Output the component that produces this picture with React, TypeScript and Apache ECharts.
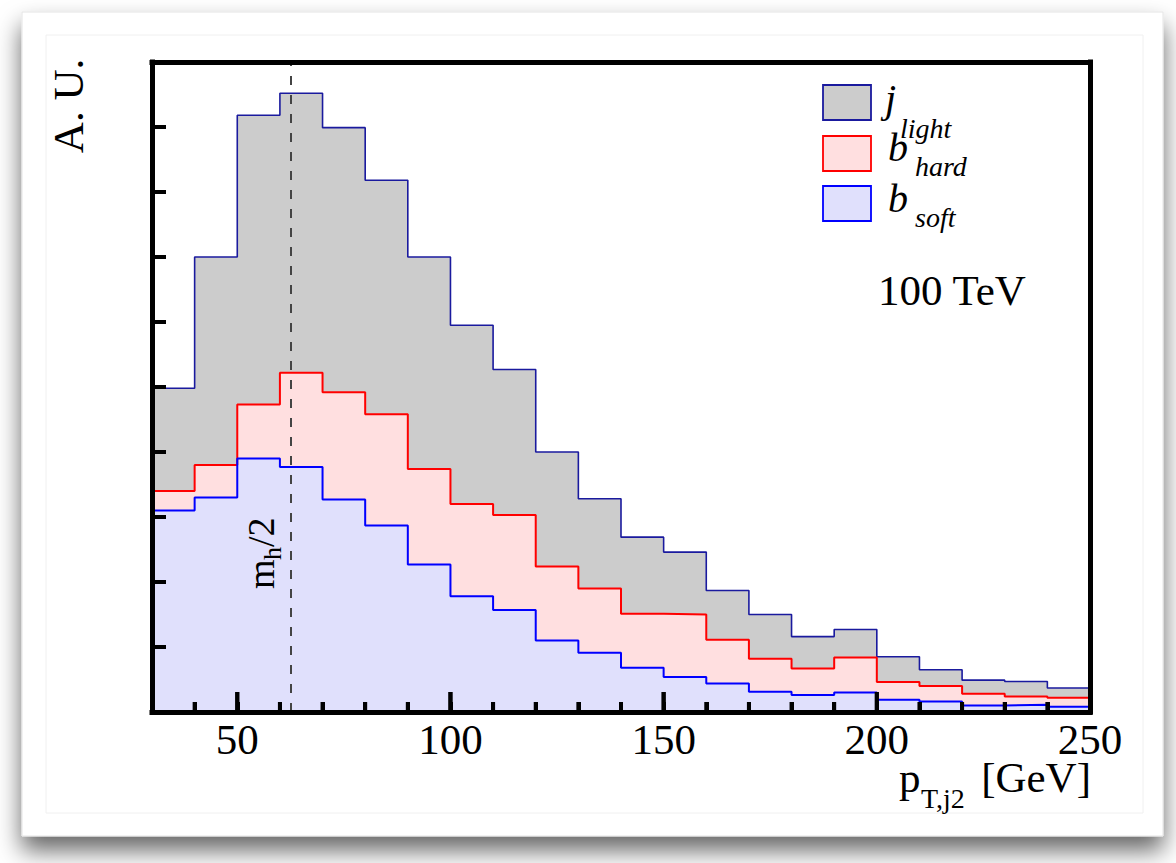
import React, { useEffect, useRef } from "react";
import * as echarts from "echarts";

// Histogram bins: lower edges (GeV), 10 GeV wide
const binLow = [30, 40, 50, 60, 70, 80, 90, 100, 110, 120, 130, 140, 150, 160, 170, 180, 190, 200, 210, 220, 230, 240];
const binHigh = 250;

// Normalised distributions (arbitrary units)
const jLight = [4.98, 7.0, 9.18, 9.52, 8.99, 8.18, 7.0, 5.95, 5.27, 4.0, 3.28, 2.69, 2.46, 1.87, 1.5, 1.16, 1.27, 0.85, 0.65, 0.49, 0.47, 0.37];
const bHard = [3.4, 3.8, 4.73, 5.22, 4.92, 4.58, 3.74, 3.2, 3.03, 2.24, 1.9, 1.51, 1.5, 1.11, 0.82, 0.67, 0.84, 0.46, 0.4, 0.28, 0.24, 0.22];
const bSoft = [3.1, 3.3, 3.9, 3.77, 3.27, 2.87, 2.27, 1.78, 1.57, 1.1, 0.91, 0.68, 0.54, 0.44, 0.31, 0.26, 0.3, 0.19, 0.16, 0.1, 0.11, 0.08];

// x ticks: long at the labelled values, short at the other bin edges
const xLabelTicks = [50, 100, 150, 200, 250];
const xMinorTicks = [40, 60, 70, 80, 90, 110, 120, 130, 140, 160, 170, 180, 190, 210, 220, 230, 240];
const yTicks = [1, 2, 3, 4, 5, 6, 7, 8, 9];

// Half the Higgs mass, GeV
const higgsHalfMass = 62.5;

const FONT = "Liberation Serif, Times New Roman, serif";

const toSteps = (vals: number[]) => [
  ...binLow.map((x, i) => [x, vals[i]]),
  [binHigh, vals[vals.length - 1]],
];

// Text positioned by its alphabetic baseline
const txt = (
  x: number,
  baseline: number,
  text: string,
  size: number,
  extra: Record<string, any> = {}
) => ({
  type: "text",
  x,
  y: baseline - 0.3375 * size,
  z: 100,
  style: {
    text,
    fontSize: size,
    fontFamily: FONT,
    fontStyle: extra.italic ? "italic" : "normal",
    fill: "#000",
    align: extra.align || "left",
    verticalAlign: "middle",
  },
});

const legendBox = (y: number, fill: string, stroke: string) => ({
  type: "rect",
  z: 100,
  shape: { x: 823, y, width: 48, height: 35 },
  style: { fill, stroke, lineWidth: 1.8 },
});

// Long inward ticks at the labelled x values
const majorTickSeries = {
  type: "custom",
  name: "majorTicks",
  z: 8,
  silent: true,
  clip: false,
  data: xLabelTicks.map((v) => [v, 0]),
  encode: { x: 0, y: 1 },
  renderItem: (params: any, api: any) => {
    const c = api.coord([api.value(0), 0]);
    return {
      type: "line",
      shape: { x1: c[0], y1: c[1], x2: c[0], y2: c[1] - 20 },
      style: { stroke: "#000", lineWidth: 4 },
    };
  },
};

export default function App() {
  const ref = useRef<HTMLDivElement>(null);

  useEffect(() => {
    if (!ref.current) return;
    const chart = echarts.init(ref.current, undefined, { renderer: "svg" });

    const frameLine = { show: true, onZero: false, lineStyle: { color: "#000", width: 5, cap: "square" } };

    const elements: any[] = [
      // card with drop shadow
      {
        type: "rect",
        z: -10,
        shape: { x: 22, y: 12, width: 1141, height: 824 },
        style: {
          fill: "#fff",
          stroke: "#e4e4e4",
          lineWidth: 1,
          shadowBlur: 24,
          shadowOffsetY: 14,
          shadowColor: "rgba(0,0,0,0.6)",
        },
      },
      {
        type: "rect",
        z: -9,
        shape: { x: 46, y: 35, width: 1097, height: 778 },
        style: { fill: "none", stroke: "#f0f0f0", lineWidth: 1 },
      },
      // legend
      legendBox(85, "#cccccc", "#1a1a9e"),
      legendBox(136, "#ffdfe0", "#ff0000"),
      legendBox(186, "#e0e0fc", "#0000ff"),
      txt(885, 112, "j", 40, { italic: true }),
      txt(900, 138, "light", 28, { italic: true }),
      txt(888, 161, "b", 40, { italic: true }),
      txt(915, 176, "hard", 28, { italic: true }),
      txt(888, 212, "b", 40, { italic: true }),
      txt(915, 227, "soft", 28, { italic: true }),
      // energy
      txt(878, 305, "100 TeV", 43),
      // x-axis title
      txt(899, 792, "p", 43),
      txt(921, 808, "T,j2", 28),
      txt(1091, 792, "[GeV]", 43, { align: "right" }),
      // y-axis title
      {
        type: "text",
        x: 68,
        y: 106,
        rotation: Math.PI / 2,
        z: 100,
        style: {
          text: "A. U.",
          fontSize: 43,
          fontFamily: FONT,
          fill: "#000",
          align: "center",
          verticalAlign: "middle",
        },
      },
      // m_h/2 marker label
      {
        type: "group",
        x: 274,
        y: 589,
        rotation: Math.PI / 2,
        z: 100,
        children: [txt(0, 0, "m", 38), txt(29, 7, "h", 26), txt(42, 0, "/2", 38)],
      },
    ];

    const option: any = {
      animation: false,
      grid: { left: 152, top: 62, right: 86, bottom: 151 },
      xAxis: [
        {
          type: "value",
          position: "bottom",
          min: 30,
          max: 250,
          interval: 10,
          z: 10,
          axisLine: frameLine,
          axisTick: {
            show: true,
            inside: true,
            length: 10,
            lineStyle: { color: "#000", width: 4 },
          },
          axisLabel: {
            show: true,
            formatter: (v: number) => (xLabelTicks.includes(v) ? String(v) : ""),
            margin: 6,
            fontSize: 43,
            fontFamily: FONT,
            color: "#000",
          },
          splitLine: { show: false },
        },
        {
          type: "value",
          position: "top",
          min: 30,
          max: 250,
          z: 10,
          axisLine: frameLine,
          axisTick: { show: false },
          axisLabel: { show: false },
          splitLine: { show: false },
        },
      ],
      yAxis: [
        {
          type: "value",
          position: "left",
          min: 0,
          max: 10,
          z: 10,
          axisLine: frameLine,
          axisTick: {
            show: true,
            inside: true,
            length: 14,
            customValues: yTicks,
            lineStyle: { color: "#000", width: 4 },
          },
          axisLabel: { show: false },
          splitLine: { show: false },
        },
        {
          type: "value",
          position: "right",
          min: 0,
          max: 10,
          z: 10,
          axisLine: frameLine,
          axisTick: { show: false },
          axisLabel: { show: false },
          splitLine: { show: false },
        },
      ],
      series: [
        {
          name: "j_light",
          type: "line",
          step: "end",
          symbol: "none",
          data: toSteps(jLight),
          lineStyle: { color: "#1a1a9e", width: 1.6 },
          areaStyle: { color: "#cccccc", opacity: 1 },
        },
        {
          name: "b_hard",
          type: "line",
          step: "end",
          symbol: "none",
          data: toSteps(bHard),
          lineStyle: { color: "#ff0000", width: 2 },
          areaStyle: { color: "#ffdfe0", opacity: 1 },
        },
        {
          name: "b_soft",
          type: "line",
          step: "end",
          symbol: "none",
          data: toSteps(bSoft),
          lineStyle: { color: "#0000ff", width: 2 },
          areaStyle: { color: "#e0e0fc", opacity: 1 },
          markLine: {
            silent: true,
            symbol: ["none", "none"],
            label: { show: false },
            lineStyle: { type: [9, 10], color: "#444", width: 2 },
            data: [{ xAxis: higgsHalfMass }],
          },
        },
        majorTickSeries,
      ],
      graphic: { elements },
    };

    chart.setOption(option);

    // Inward x ticks placed on the axis scale, kept above the filled areas
    const tickLine = (v: number, len: number) => {
      const p = chart.convertToPixel({ xAxisIndex: 0, yAxisIndex: 0 }, [v, 0]) as number[];
      return {
        type: "line",
        z: 200,
        silent: true,
        shape: { x1: p[0], y1: p[1], x2: p[0], y2: p[1] - len },
        style: { stroke: "#000", lineWidth: 4 },
      };
    };
    const tickElements = [
      ...xMinorTicks.map((v) => tickLine(v, 10)),
      ...xLabelTicks.map((v) => tickLine(v, 20)),
    ];
    chart.setOption({ graphic: { elements: [...elements, ...tickElements] } });

    return () => chart.dispose();
  }, []);

  return (
    <div
      ref={ref}
      style={{ position: "fixed", left: 0, top: 0, width: 1176, height: 863, background: "#fff" }}
    />
  );
}
